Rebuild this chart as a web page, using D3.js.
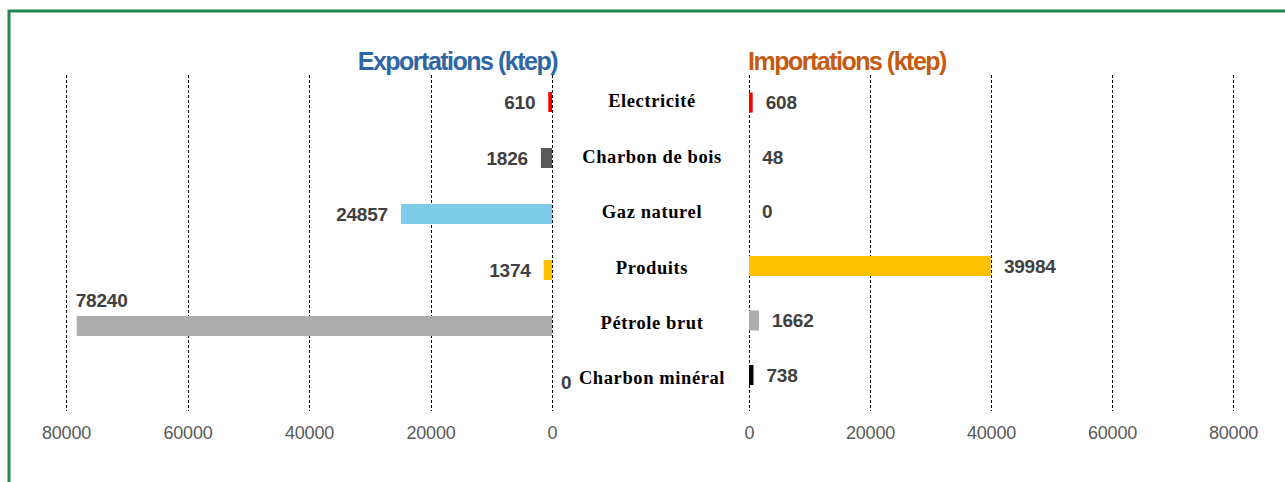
<!DOCTYPE html>
<html>
<head>
<meta charset="utf-8">
<script src="https://cdn.jsdelivr.net/npm/d3@7"></script>
<style>
  body { margin: 0; background: #fff; }
  svg { display: block; }
</style>
</head>
<body>
<svg width="1285" height="482"></svg>
<script>
// energy trade chart, exports left / imports right

const categories = ["Electricité", "Charbon de bois", "Gaz naturel", "Produits", "Pétrole brut", "Charbon minéral"];
const exportations = [610, 1826, 24857, 1374, 78240, 0];
const importations = [608, 48, 0, 39984, 1662, 738];
const tickValues = [0, 20000, 40000, 60000, 80000];

const barColors = ["#ff0000", "#595959", "#7fcbea", "#ffc000", "#adadad", "#000000"];

let svg = d3.select("svg");

// frame
svg.append("rect")
    .attr("x", 9).attr("y", 11)
    .attr("width", 1300).attr("height", 500)
    .attr("fill", "none")
    .attr("stroke", "#23874f")
    .attr("stroke-width", 3);

const gridTop = 75, gridBottom = 411, barH = 20;

let xLeft = d3.scaleLinear().domain([0, 80000]).range([552, 66]);
let xRight = d3.scaleLinear().domain([0, 80000]).range([749, 1233]);

let yLeft = d3.scalePoint().domain(categories).range([102, 382]);
let yRight = d3.scalePoint().domain(categories).range([102.5, 375]);
let yCat = d3.scalePoint().domain(categories).range([101, 378]);

function drawGrid(x) {
    svg.append("g")
        .selectAll("line")
        .data(tickValues)
        .enter().append("line")
        .attr("x1", d => Math.round(x(d)) + 0.5)
        .attr("x2", d => Math.round(x(d)) + 0.5)
        .attr("y1", gridTop)
        .attr("y2", gridBottom)
        .attr("stroke", "#000")
        .attr("stroke-width", 1)
        .attr("stroke-dasharray", "3,2");

    let axis = svg.append("g")
        .attr("transform", "translate(0," + 420 + ")")
        .call(d3.axisBottom(x).tickValues(tickValues).tickSize(0).tickPadding(0).tickFormat(d3.format("d")));
    axis.select(".domain").remove();
    axis.selectAll("text")
        .attr("y", 13)
        .attr("dy", "0.35em")
        .attr("font-family", "Liberation Sans, Arial, sans-serif")
        .attr("font-size", 18)
        .attr("letter-spacing", "-0.2px")
        .attr("fill", "#595959");
}

drawGrid(xLeft);
drawGrid(xRight);

const labelFont = "Liberation Sans, Arial, sans-serif";

// left bars (exports)
svg.append("g")
    .selectAll("rect")
    .data(exportations)
    .enter().append("rect")
    .attr("x", d => xLeft(d))
    .attr("y", (d, i) => yLeft(categories[i]) - barH / 2)
    .attr("width", d => xLeft(0) - xLeft(d))
    .attr("height", barH)
    .attr("fill", (d, i) => barColors[i]);

const maxExp = d3.max(exportations);
svg.append("g")
    .selectAll("text")
    .data(exportations)
    .enter().append("text")
    .attr("x", d => d === maxExp ? xLeft(d) - 1 : (d === 0 ? xLeft(0) + 9 : xLeft(d) - 13))
    .attr("y", (d, i) => d === maxExp ? yLeft(categories[i]) - barH / 2 - 9 : yLeft(categories[i]))
    .attr("dy", (d) => d === maxExp ? "0" : "0.35em")
    .attr("text-anchor", d => (d === maxExp || d === 0) ? "start" : "end")
    .attr("font-family", labelFont)
    .attr("font-weight", "bold")
    .attr("font-size", 19)
    .attr("letter-spacing", "-0.2px")
    .attr("fill", "#404040")
    .text(d => d);

// right bars (imports)
svg.append("g")
    .selectAll("rect")
    .data(importations)
    .enter().append("rect")
    .attr("x", xRight(0))
    .attr("y", (d, i) => yRight(categories[i]) - barH / 2)
    .attr("width", d => xRight(d) - xRight(0))
    .attr("height", barH)
    .attr("fill", (d, i) => barColors[i]);

svg.append("g")
    .selectAll("text")
    .data(importations)
    .enter().append("text")
    .attr("x", d => xRight(d) + 13)
    .attr("y", (d, i) => yRight(categories[i]))
    .attr("dy", "0.35em")
    .attr("font-family", labelFont)
    .attr("font-weight", "bold")
    .attr("font-size", 19)
    .attr("letter-spacing", "-0.2px")
    .attr("fill", "#404040")
    .text(d => d);

// category names in the middle
svg.append("g")
    .selectAll("text")
    .data(categories)
    .enter().append("text")
    .attr("x", 652)
    .attr("y", d => yCat(d))
    .attr("dy", "0.35em")
    .attr("text-anchor", "middle")
    .attr("font-family", "Liberation Serif, Times New Roman, serif")
    .attr("font-weight", "bold")
    .attr("font-size", 18.5)
    .attr("letter-spacing", "0.6px")
    .attr("fill", "#000")
    .text(d => d);

// titles
svg.append("text")
    .attr("x", 557).attr("y", 70)
    .attr("text-anchor", "end")
    .attr("font-family", labelFont)
    .attr("font-weight", "bold")
    .attr("font-size", 25)
    .attr("letter-spacing", "-1.5px")
    .attr("fill", "#2e67a3")
    .text("Exportations (ktep)");

svg.append("text")
    .attr("x", 748).attr("y", 70)
    .attr("font-family", labelFont)
    .attr("font-weight", "bold")
    .attr("font-size", 25)
    .attr("letter-spacing", "-1.5px")
    .attr("fill", "#c55a11")
    .text("Importations (ktep)");
</script>
</body>
</html>
